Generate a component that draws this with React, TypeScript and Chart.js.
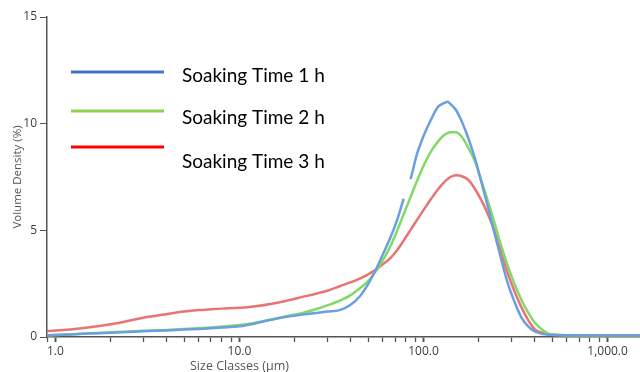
import React, { useEffect, useRef } from "react";
import { Chart, registerables } from "chart.js";

Chart.register(...registerables);

// Size classes (µm)
const SIZES = [
  0.9, 1.0, 1.2, 1.5, 2, 2.5, 3, 4, 5, 6,
  7, 8, 10, 12, 15, 18, 22, 26, 30, 35,
  40, 45, 50, 55, 60, 66, 72, 78, 85, 92,
  100, 110, 120, 130, 135, 140, 150, 160, 175, 190,
  205, 220, 240, 260, 285, 310, 340, 370, 400, 440,
  480, 530, 600, 800, 1000, 1500,
];

// Volume density (%)
const SOAK_1H = [
  0.08, 0.09, 0.12, 0.16, 0.2, 0.24, 0.27, 0.31, 0.35, 0.38,
  0.41, 0.44, 0.5, 0.62, 0.82, 0.95, 1.05, 1.13, 1.19, 1.26,
  1.5, 1.9, 2.48, 3.14, 3.86, 4.65, 5.5, 6.48, 7.4, 8.56,
  9.42, 10.21, 10.79, 10.97, 11.03, 10.92, 10.64, 10.17, 9.33, 8.39,
  7.35, 6.34, 5.04, 3.88, 2.6, 1.71, 0.92, 0.5, 0.27, 0.15,
  0.1, 0.08, 0.08, 0.08, 0.08, 0.08,
];
const SOAK_2H = [
  0.08, 0.09, 0.12, 0.17, 0.22, 0.26, 0.29, 0.33, 0.37, 0.41,
  0.45, 0.49, 0.56, 0.66, 0.82, 0.97, 1.13, 1.3, 1.48, 1.7,
  1.95, 2.28, 2.62, 3.08, 3.58, 4.25, 5.0, 5.75, 6.56, 7.3,
  8.02, 8.71, 9.17, 9.48, 9.56, 9.6, 9.6, 9.42, 8.88, 8.25,
  7.38, 6.57, 5.5, 4.48, 3.4, 2.55, 1.75, 1.15, 0.7, 0.35,
  0.15, 0.1, 0.08, 0.08, 0.08, 0.08,
];
const SOAK_3H = [
  0.28, 0.3, 0.35, 0.44, 0.6, 0.76, 0.9, 1.07, 1.19, 1.26,
  1.3, 1.33, 1.37, 1.43, 1.56, 1.7, 1.88, 2.03, 2.17, 2.38,
  2.56, 2.74, 2.94, 3.15, 3.4, 3.7, 4.08, 4.52, 5.02, 5.48,
  5.95, 6.48, 6.93, 7.27, 7.4, 7.5, 7.58, 7.55, 7.37, 6.95,
  6.45, 5.9, 5.1, 4.15, 3.05, 2.2, 1.4, 0.8, 0.38, 0.2,
  0.13, 0.1, 0.08, 0.08, 0.08, 0.08,
];

const SERIES_LABELS = ["Soaking Time 1 h", "Soaking Time 2 h", "Soaking Time 3 h"];
const LINE_COLORS = ["#6a9fe0", "#82d965", "#e87474"];
const LEGEND_COLORS = ["#4472c4", "#92d050", "#ff0000"];

const X_TICK_VALUES = [
  0.9, 1, 2, 3, 4, 5, 6, 7, 8, 9,
  10, 20, 30, 40, 50, 60, 70, 80, 90,
  100, 200, 300, 400, 500, 600, 700, 800, 900, 1000,
];
const X_MAJOR_TICKS = [1, 10, 100, 1000];
const X_MAJOR_LABELS = ["1.0", "10.0", "100.0", "1,000.0"];
const Y_TICKS = [0, 5, 10, 15];

const X_TITLE = "Size Classes (µm)";
const Y_TITLE = "Volume Density (%)";

// the 1 h curve has a short break in the original plot
const BLUE_GAP_AFTER = 78;

const legendPlugin = {
  id: "customLegend",
  afterDraw(chart: any) {
    const ctx = chart.ctx;
    const lineY = [72, 111, 147];
    const textY = [82, 124, 168];
    ctx.save();
    chart.data.datasets.forEach((ds: any, i: number) => {
      ctx.strokeStyle = LEGEND_COLORS[i];
      ctx.lineWidth = 3;
      ctx.beginPath();
      ctx.moveTo(71, lineY[i]);
      ctx.lineTo(164, lineY[i]);
      ctx.stroke();
      ctx.fillStyle = "#000";
      ctx.font = "19px Lato, 'Open Sans', sans-serif";
      ctx.textAlign = "left";
      ctx.textBaseline = "alphabetic";
      ctx.fillText(ds.label, 182, textY[i]);
    });
    // x-axis title, placed under the 10 µm tick as in the original
    const xs = chart.scales.x;
    ctx.fillStyle = "#555";
    ctx.font = "12.5px 'Open Sans', sans-serif";
    ctx.textAlign = "center";
    ctx.textBaseline = "middle";
    ctx.fillText(X_TITLE, xs.getPixelForValue(10), 366);
    ctx.restore();
  },
};

export default function App() {
  const ref = useRef<HTMLCanvasElement | null>(null);

  useEffect(() => {
    if (!ref.current) return;
    Chart.defaults.font.family = "'Open Sans', sans-serif";
    const gapIdx = SIZES.indexOf(BLUE_GAP_AFTER);
    const series = [SOAK_1H, SOAK_2H, SOAK_3H];
    const chart = new Chart(ref.current, {
      type: "line",
      data: {
        datasets: series.map((vals, i) => ({
          label: SERIES_LABELS[i],
          data: SIZES.map((s, j) => ({ x: s, y: vals[j] })),
          borderColor: LINE_COLORS[i],
          backgroundColor: LINE_COLORS[i],
          borderWidth: 2.5,
          pointRadius: 0,
          cubicInterpolationMode: "monotone" as const,
          fill: false,
          segment:
            i === 0
              ? {
                  borderColor: (c: any) =>
                    c.p0DataIndex === gapIdx ? "rgba(0,0,0,0)" : undefined,
                }
              : undefined,
        })),
      },
      options: {
        responsive: false,
        animation: false,
        layout: { padding: { top: 17, left: 0, right: 0, bottom: 0 } },
        plugins: {
          legend: { display: false },
          tooltip: { enabled: false },
        },
        scales: {
          x: {
            type: "logarithmic",
            min: 0.9,
            max: 1500,
            border: { display: true, color: "#555", width: 1.5 },
            grid: {
              drawOnChartArea: false,
              drawTicks: true,
              tickLength: 5,
              tickColor: "#555",
              tickWidth: (c: any) =>
                c.tick && X_MAJOR_TICKS.includes(c.tick.value) ? 2 : 1.3,
            },
            afterBuildTicks: (scale: any) => {
              scale.ticks = X_TICK_VALUES.map((v) => ({ value: v }));
            },
            afterFit: (scale: any) => {
              scale.height = 35;
            },
            ticks: {
              autoSkip: false,
              maxRotation: 0,
              padding: 2,
              color: "#3c3c3c",
              font: { size: 12 },
              callback: (value: any) => {
                const k = X_MAJOR_TICKS.indexOf(Number(value));
                return k >= 0 ? X_MAJOR_LABELS[k] : "";
              },
            },
          },
          y: {
            min: 0,
            max: 15,
            border: { display: true, color: "#555", width: 1.5 },
            grid: {
              drawOnChartArea: false,
              drawTicks: true,
              tickLength: 7,
              tickColor: "#555",
            },
            afterBuildTicks: (scale: any) => {
              scale.ticks = Y_TICKS.map((v) => ({ value: v }));
            },
            afterFit: (scale: any) => {
              scale.width = 47;
            },
            ticks: {
              padding: 3,
              color: "#3c3c3c",
              font: { size: 12 },
            },
            title: {
              display: true,
              text: Y_TITLE,
              color: "#555",
              font: { size: 11.5 },
              padding: { top: 11, bottom: 0 },
            },
          },
        },
      },
      plugins: [legendPlugin],
    });
    return () => chart.destroy();
  }, []);

  return (
    <div
      style={{
        position: "fixed",
        left: 0,
        top: 0,
        width: 640,
        height: 372,
        background: "#fff",
      }}
    >
      <canvas ref={ref} width={640} height={372} />
    </div>
  );
}
